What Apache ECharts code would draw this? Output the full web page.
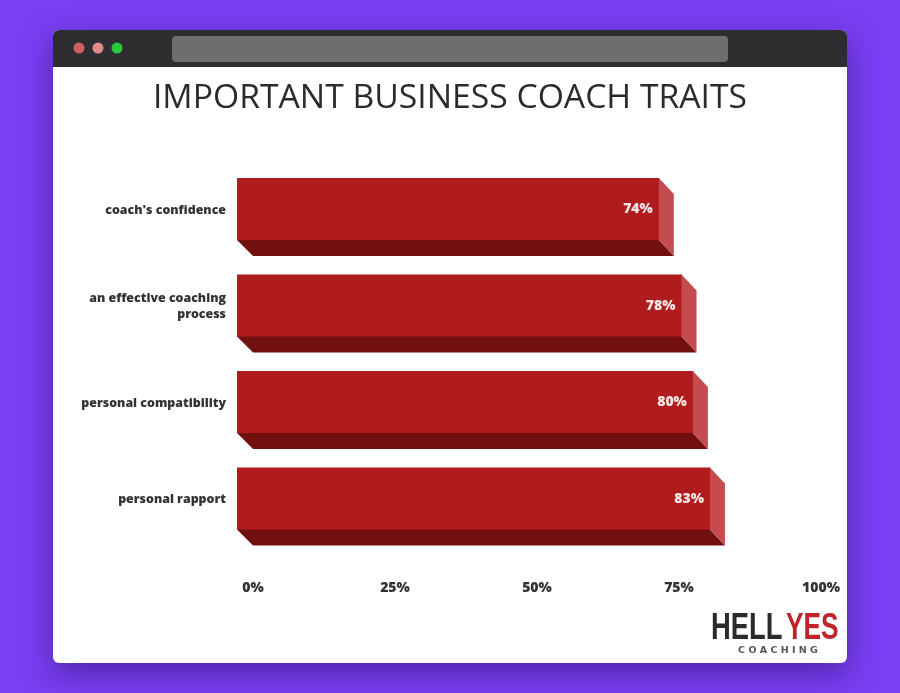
<!DOCTYPE html>
<html><head><meta charset="utf-8">
<style>html,body{margin:0;padding:0;background:#7a3ff2}#c{width:900px;height:693px}</style>
<script src="https://cdn.jsdelivr.net/npm/echarts@6/dist/echarts.min.js"></script>
</head><body><div id="c"></div>
<script>
const titleText = "IMPORTANT BUSINESS COACH TRAITS";
const categories = ["coach's confidence", "an effective coaching\nprocess", "personal compatibility", "personal rapport"];
const values = [74, 78, 80, 83];
const ticks = [0, 25, 50, 75, 100];

const DEPTH_LEFT = 16, DEPTH_RIGHT = 15, FACE_H = 62;
const FONT = '"Open Sans"';
const chart = echarts.init(document.getElementById('c'), null, {renderer: 'canvas'});

function renderBar(params, api) {
  const v = api.value(0), c = api.value(1);
  const p0 = api.coord([0, c]), p1 = api.coord([v, c]);
  const x0 = p0[0] - DEPTH_LEFT, x1 = p1[0] - DEPTH_RIGHT + 0.5;
  const top = p0[1] - FACE_H / 2 - 1, bot = top + FACE_H;
  return {
    type: 'group',
    children: [
      {type: 'polygon', shape: {points: [[x0, bot - 1], [x1, bot - 1], [x1, bot], [x1 + DEPTH_RIGHT, bot + DEPTH_LEFT], [x0 + DEPTH_LEFT, bot + DEPTH_LEFT], [x0, bot]]}, style: {fill: '#72100f'}},
      {type: 'polygon', shape: {points: [[x1 - 1, top], [x1, top], [x1 + DEPTH_RIGHT, top + DEPTH_LEFT], [x1 + DEPTH_RIGHT, bot + DEPTH_LEFT], [x1, bot], [x1 - 1, bot - 1]]}, style: {fill: '#c44c4e'}},
      {type: 'rect', shape: {x: x0, y: top, width: x1 - x0, height: FACE_H}, style: {fill: '#b01b1d'}},
      {type: 'text', style: {text: v + '%', x: x1 - 6, y: p0[1] - 0.5, align: 'right', verticalAlign: 'middle', fill: '#f6e4e4', font: '800 14px ' + FONT}}
    ]
  };
}

chart.setOption({
  animation: false,
  backgroundColor: '#7a3ff2',
  title: {
    text: titleText, left: 'center', top: 76,
    textStyle: {fontFamily: '"Open Sans"', fontWeight: 400, fontSize: 33.7, color: '#2b2b2b'}
  },
  grid: {left: 253, width: 568, top: 161.75, height: 386},
  xAxis: {
    type: 'value', min: 0, max: 100, interval: 25, position: 'bottom',
    axisLine: {show: false}, axisTick: {show: false}, splitLine: {show: false},
    axisLabel: {margin: 33, formatter: v => ticks.includes(v) ? v + '%' : '', color: '#333', fontFamily: FONT, fontWeight: 800, fontSize: 14}
  },
  yAxis: {
    type: 'category', data: categories, inverse: true,
    axisLine: {show: false}, axisTick: {show: false}, splitLine: {show: false},
    axisLabel: {margin: 27, align: 'right', color: '#333', fontFamily: FONT, fontWeight: 800, fontSize: 12.4, lineHeight: 16}
  },
  series: [{
    type: 'custom', z: 10, clip: false,
    encode: {x: 0, y: 1},
    data: values.map((v, i) => [v, i]),
    renderItem: renderBar
  }],
  graphic: [
    {type: 'rect', z: -5, shape: {x: 53, y: 30, width: 794, height: 633, r: 6}, style: {fill: '#fff', shadowBlur: 30, shadowOffsetY: 10, shadowColor: 'rgba(50,20,120,0.6)'}},
    {type: 'rect', z: -4, shape: {x: 53, y: 30, width: 794, height: 37, r: [6, 6, 0, 0]}, style: {fill: '#2e2e30'}},
    {type: 'circle', z: -3, shape: {cx: 79, cy: 48, r: 5.5}, style: {fill: '#cf5f60'}},
    {type: 'circle', z: -3, shape: {cx: 98, cy: 48, r: 5.5}, style: {fill: '#e08c88'}},
    {type: 'circle', z: -3, shape: {cx: 117, cy: 48, r: 5.5}, style: {fill: '#2cc840'}},
    {type: 'rect', z: -3, shape: {x: 172, y: 36, width: 556, height: 26, r: 4}, style: {fill: '#6e6e6e'}},
    {type: 'text', z: 3, x: 711, y: 629, scaleX: 0.74, style: {text: 'HELL', x: 0, y: 0, verticalAlign: 'middle', fill: '#2b2b2b', font: 'bold 37px "Liberation Sans"'}},
    {type: 'text', z: 3, x: 786, y: 629, scaleX: 0.71, style: {text: 'YES', x: 0, y: 0, verticalAlign: 'middle', fill: '#c0242a', font: 'bold 37px "Liberation Sans"'}},
    {type: 'text', z: 3, style: {text: 'C O A C H I N G', x: 778, y: 651, align: 'center', verticalAlign: 'middle', fill: '#555', font: 'bold 9.5px "DejaVu Sans"'}}
  ]
});
</script></body></html>
